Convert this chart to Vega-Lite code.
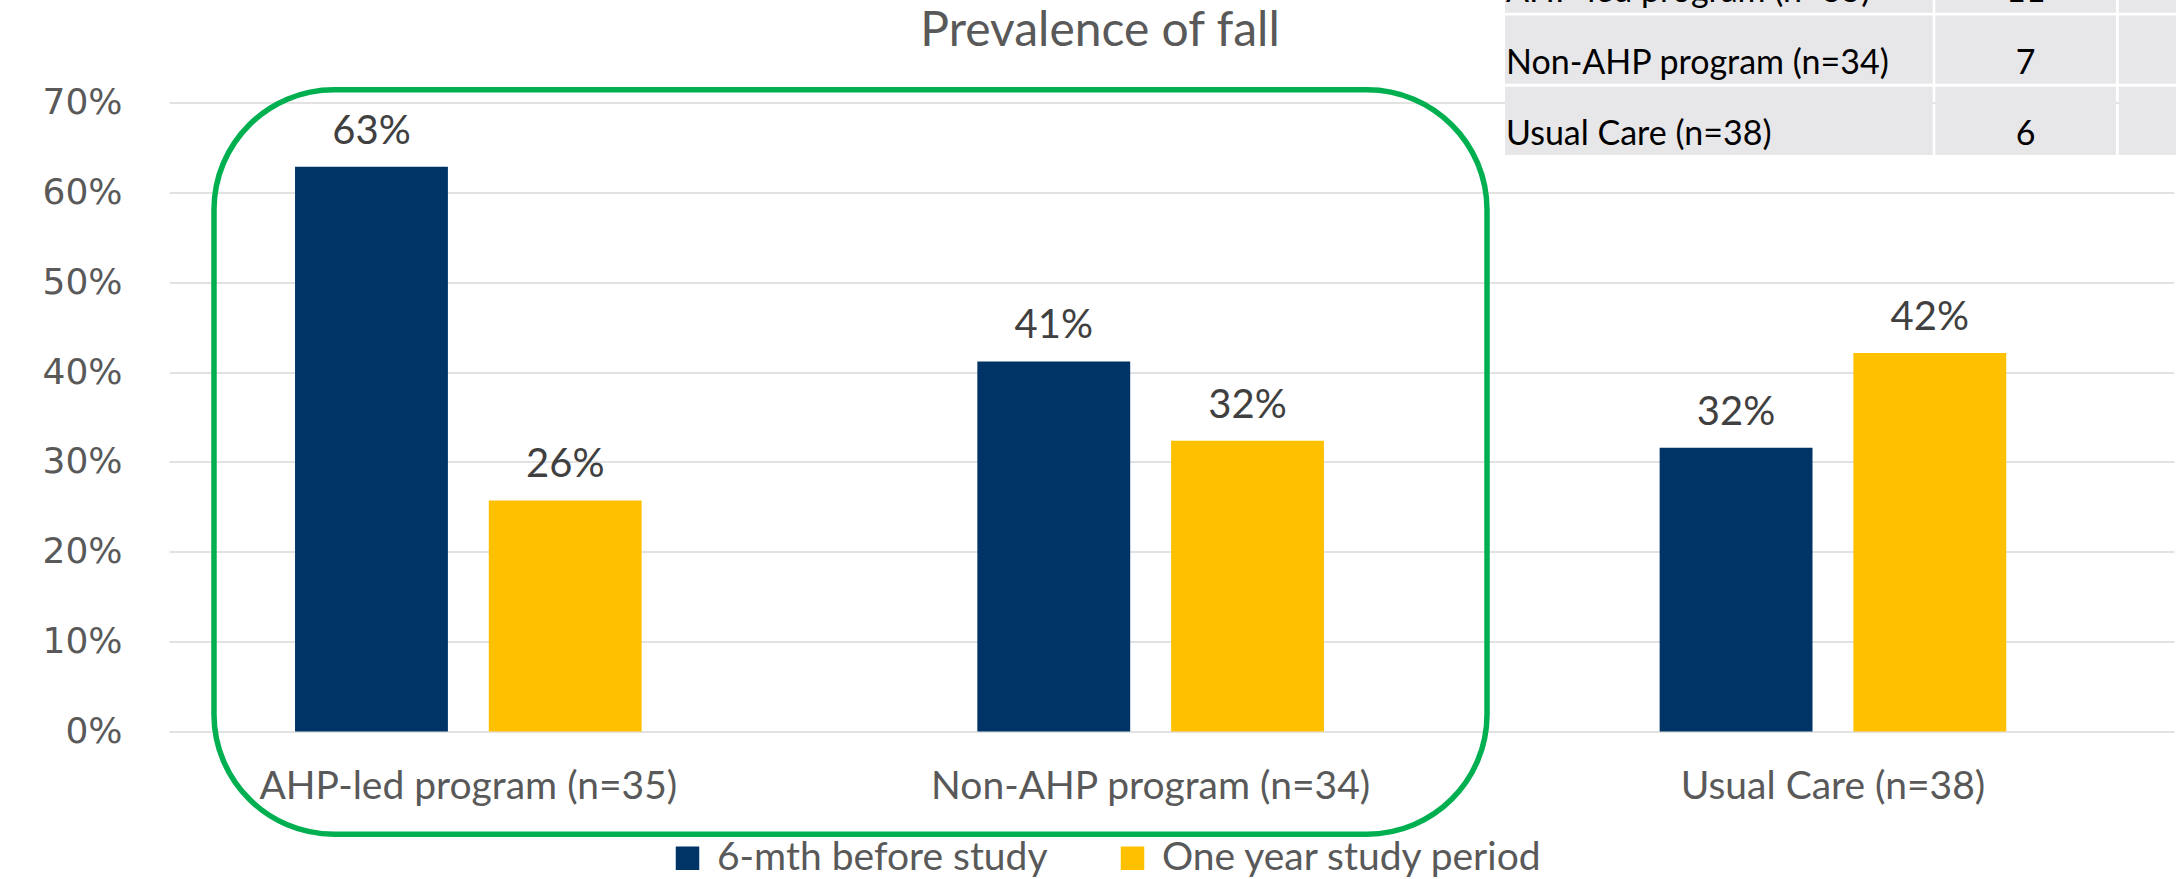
{
  "$schema": "https://vega.github.io/schema/vega-lite/v6.json",
  "width": 2005,
  "height": 629,
  "autosize": {"type": "none"},
  "padding": {"left": 169, "top": 102.5, "right": 2, "bottom": 147.5},
  "background": "#ffffff",
  "config": {"view": {"stroke": null}, "font": "Lato"},
  "title": {
    "text": "Prevalence of fall",
    "font": "Lato",
    "fontSize": 48,
    "fontWeight": "normal",
    "color": "#595959",
    "anchor": "middle",
    "frame": "group",
    "dx": -71.5,
    "baseline": "alphabetic",
    "offset": -149.5
  },
  "datasets": {
    "prevalence": [
      {"Group": "AHP-led program (n=35)", "Period": "6-mth before study", "Pct": 0.6286},
      {"Group": "AHP-led program (n=35)", "Period": "One year study period", "Pct": 0.2571},
      {"Group": "Non-AHP program (n=34)", "Period": "6-mth before study", "Pct": 0.4118},
      {"Group": "Non-AHP program (n=34)", "Period": "One year study period", "Pct": 0.3235},
      {"Group": "Usual Care (n=38)", "Period": "6-mth before study", "Pct": 0.3158},
      {"Group": "Usual Care (n=38)", "Period": "One year study period", "Pct": 0.4211}
    ],
    "falls": [
      {"Group": "AHP-led program (n=35)", "Falls": 11},
      {"Group": "Non-AHP program (n=34)", "Falls": 7},
      {"Group": "Usual Care (n=38)", "Falls": 6}
    ],
    "annotation": [
      {"Note": "AHP-led and Non-AHP programs"}
    ]
  },
  "layer": [
    {
      "data": {"name": "falls"},
      "encoding": {
        "y": {
          "field": "Group",
          "type": "nominal",
          "sort": null,
          "scale": {
            "domain": ["AHP-led program (n=35)", "Non-AHP program (n=34)", "Usual Care (n=38)"],
            "range": [-158.2, 52.5],
            "paddingInner": 0.04,
            "paddingOuter": 0
          },
          "axis": null
        }
      },
      "layer": [
        {
          "mark": {"type": "rect", "color": "#E7E6E8"},
          "encoding": {
            "x": {"datum": 1.999, "type": "quantitative", "scale": {"domain": [0, 3], "nice": false, "zero": false}, "axis": null},
            "x2": {"datum": 2.639}
          }
        },
        {
          "mark": {"type": "rect", "color": "#E7E6E8"},
          "encoding": {
            "x": {"datum": 2.6429, "type": "quantitative", "scale": {"domain": [0, 3], "nice": false, "zero": false}, "axis": null},
            "x2": {"datum": 2.9132}
          }
        },
        {
          "mark": {"type": "rect", "color": "#E7E6E8"},
          "encoding": {
            "x": {"datum": 2.9173, "type": "quantitative", "scale": {"domain": [0, 3], "nice": false, "zero": false}, "axis": null},
            "x2": {"datum": 3.2}
          }
        },
        {
          "mark": {"type": "text", "align": "left", "baseline": "alphabetic", "dy": 24, "font": "Lato", "fontSize": 34, "color": "#000000"},
          "encoding": {
            "x": {"datum": 2.0005, "type": "quantitative", "scale": {"domain": [0, 3], "nice": false, "zero": false}, "axis": null},
            "text": {"field": "Group"}
          }
        },
        {
          "mark": {"type": "text", "align": "center", "baseline": "alphabetic", "dy": 24, "font": "Lato", "fontSize": 34, "color": "#000000"},
          "encoding": {
            "x": {"datum": 2.7781, "type": "quantitative", "scale": {"domain": [0, 3], "nice": false, "zero": false}, "axis": null},
            "text": {"field": "Falls"}
          }
        }
      ]
    },
    {
      "data": {"name": "prevalence"},
      "encoding": {
        "x": {
          "field": "Group",
          "type": "nominal",
          "sort": null,
          "scale": {"paddingInner": 0.492, "paddingOuter": 0.2153, "align": 0.429},
          "axis": {
            "title": null,
            "labelFont": "Lato",
            "labelFontSize": 39,
            "labelColor": "#595959",
            "labelPadding": 66.5,
            "labelBaseline": "alphabetic",
            "labelAngle": 0,
            "labelLimit": 1000,
            "domain": false,
            "ticks": false,
            "tickSize": 0,
            "grid": false
          }
        },
        "xOffset": {
          "field": "Period",
          "type": "nominal",
          "sort": null,
          "scale": {"paddingInner": 0.211, "paddingOuter": 0}
        },
        "y": {
          "field": "Pct",
          "type": "quantitative",
          "scale": {"domain": [0, 0.7], "nice": false},
          "axis": {
            "title": null,
            "values": [0, 0.1, 0.2, 0.3, 0.4, 0.5, 0.6, 0.7],
            "format": ".0%",
            "labelFont": "DejaVu Sans",
            "labelFontSize": 36,
            "labelColor": "#595959",
            "labelPadding": 47,
            "domain": false,
            "ticks": false,
            "tickSize": 0,
            "grid": true,
            "gridColor": "#D9D9D9",
            "gridWidth": 1.6
          }
        }
      },
      "layer": [
        {
          "mark": {"type": "bar"},
          "encoding": {
            "color": {
              "field": "Period",
              "type": "nominal",
              "sort": null,
              "scale": {"range": ["#013466", "#FFC000"]},
              "legend": {
                "title": null,
                "orient": "none",
                "legendX": 499,
                "legendY": 736,
                "direction": "horizontal",
                "symbolType": "square",
                "symbolSize": 552,
                "symbolStrokeWidth": 0,
                "labelFont": "Lato",
                "labelFontSize": 39,
                "labelColor": "#595959",
                "labelOffset": 10,
                "labelLimit": 1000,
                "columnPadding": 65,
                "padding": 0
              }
            }
          }
        },
        {
          "mark": {"type": "text", "baseline": "alphabetic", "dy": -23, "font": "Lato", "fontSize": 40, "color": "#404040"},
          "encoding": {
            "text": {"field": "Pct", "type": "quantitative", "format": ".0%"}
          }
        }
      ]
    },
    {
      "data": {"name": "annotation"},
      "mark": {"type": "rect", "filled": false, "stroke": "#00B050", "strokeWidth": 5.5, "cornerRadius": 120},
      "encoding": {
        "x": {"datum": 0.0673, "type": "quantitative", "scale": {"domain": [0, 3], "nice": false, "zero": false}, "axis": null},
        "x2": {"datum": 1.9721},
        "y": {"datum": 0.7141, "type": "quantitative", "scale": {"domain": [0, 0.7], "nice": false, "zero": false}, "axis": null},
        "y2": {"datum": -0.1143}
      }
    }
  ],
  "resolve": {"scale": {"x": "independent", "y": "independent"}}
}
